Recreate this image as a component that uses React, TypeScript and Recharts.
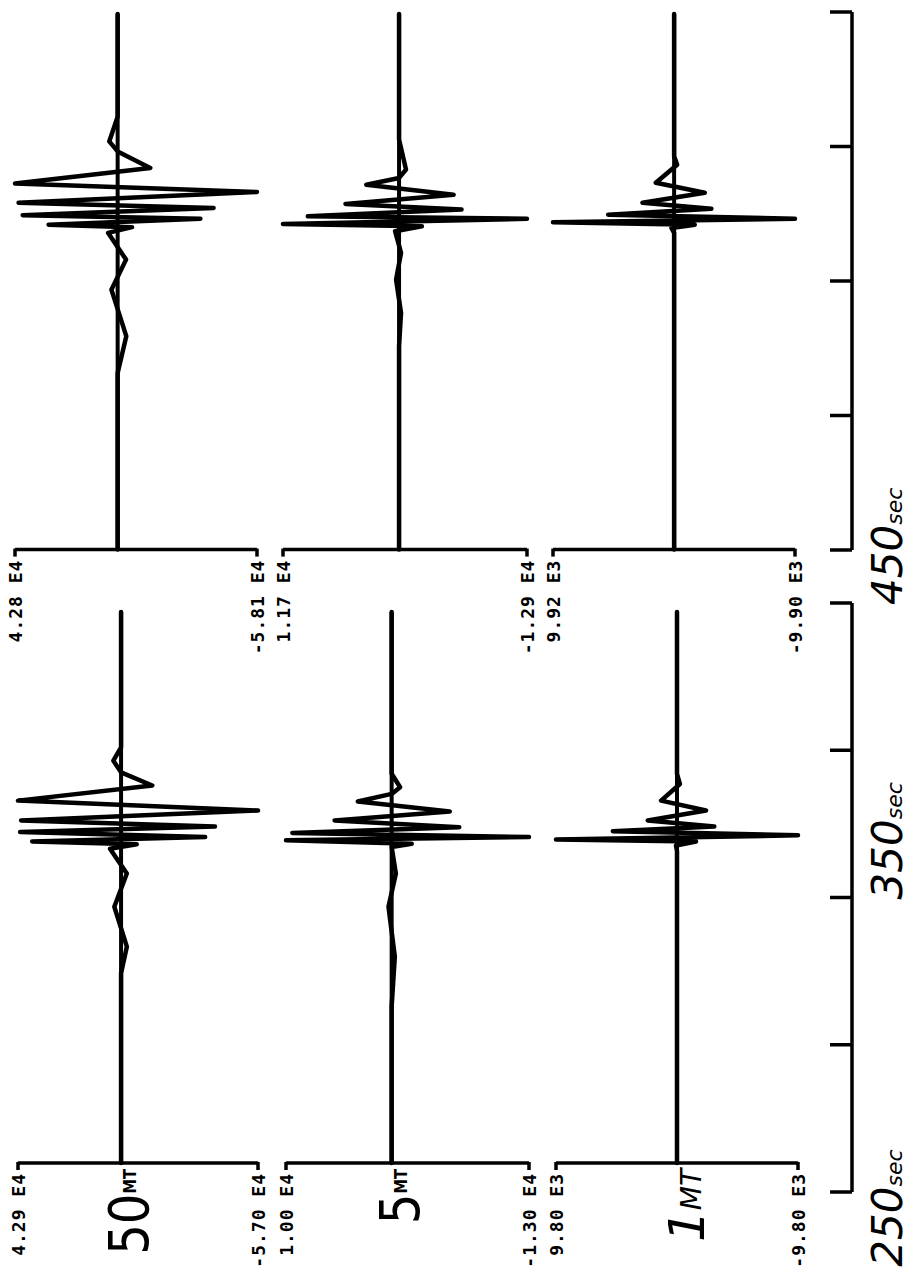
// Seismogram panels: 50 / 5 / 1 MT traces, two records, time axis on the right
import React from 'react';
import { LineChart, Line, XAxis, YAxis, ReferenceLine } from 'recharts';

// ---- samples: time (s), amplitude (in units of 10^exp) ----
// upper record
const u50Time = [448, 410, 400.9, 397.2, 391.1, 385.3, 382.2, 378.2, 376.3, 373.6, 372.3, 370.1, 369.2, 367.1, 357.2, 346.1, 328.9, 315.3, 250];
const u50Amp = [0, 0, 0.35, 0, -1.36, 4.28, -5.81, 4.13, -4.0, 3.96, -3.45, 2.88, -0.6, 0.4, -0.35, 0.26, -0.36, 0, 0];
const u5Time = [448, 401.6, 390.5, 387.4, 384.9, 381.2, 377.8, 375.7, 373.2, 372.3, 370.4, 369.5, 367.7, 359.7, 349.8, 337.5, 325.2, 250];
const u5Amp = [0, 0, -0.07, 0, 0.33, -0.55, 0.54, -0.63, 0.92, -1.29, 1.17, -0.23, 0.04, -0.02, 0.03, -0.02, 0, 0];
const u1Time = [448, 395.4, 392.3, 385.6, 381.9, 378.2, 376.0, 373.8, 372.3, 371.0, 370.1, 368.9, 367.1, 250];
const u1Amp = [0, 0, -0.25, 1.5, -2.51, 2.59, -3.05, 5.4, -9.9, 9.92, -1.69, 0.22, 0, 0];

// lower record
const l50Time = [448, 401.6, 397.0, 393.0, 388.5, 383.3, 379.9, 376.5, 374.4, 372.5, 370.8, 369.3, 368.3, 366.8, 358.3, 346.9, 333.2, 324.1, 259];
const l50Amp = [0, 0, 0.32, 0, -1.3, 4.29, -5.7, 4.16, -3.91, 4.2, -3.5, 3.7, -0.65, 0.46, -0.24, 0.28, -0.24, 0, 0];
const l5Time = [448, 392.5, 387.9, 385.6, 383.0, 379.6, 376.5, 374.2, 372.2, 370.8, 369.7, 368.5, 367.4, 358.3, 346.9, 329.8, 312.7, 259];
const l5Amp = [0, 0, -0.08, 0, 0.32, -0.55, 0.54, -0.64, 0.94, -1.3, 1.0, -0.19, 0, -0.04, 0.03, -0.03, 0, 0];
const l1Time = [448, 392.5, 389.0, 383.3, 379.9, 376.5, 374.4, 372.8, 371.4, 370.0, 369.3, 367.9, 366.0, 259];
const l1Amp = [0, 0, -0.24, 1.29, -2.35, 2.37, -3.02, 5.2, -9.8, 9.8, -1.54, 0.08, 0, 0];

// printed extremes (max, min) per trace
const upperExtent = [[4.28, -5.81], [1.17, -1.29], [9.92, -9.9]];
const lowerExtent = [[4.29, -5.7], [1.0, -1.3], [9.8, -9.8]];
const ampExp = [4, 4, 3];
const yieldNames = ['50', '5', '1'];

const timeTicks = [250, 300, 350, 400, 450];
const timeLabels = [250, 350, 450];

// ---- layout ----
const UPPER = { top: 14.4, bottom: 550, tDomain: [250, 448] };
const LOWER = { top: 612, bottom: 1163, tDomain: [259, 448] };
const upperX = [[15, 257], [283, 527], [553, 795]];
const lowerX = [[18, 258], [286, 529], [556, 798]];
const AXIS_X = 852;
const INK = '#000';
const STROKE = 4.5;

const rows = (t: number[], a: number[]) => t.map((v, i) => ({ t: v, amp: a[i] }));
const upperRows = [rows(u50Time, u50Amp), rows(u5Time, u5Amp), rows(u1Time, u1Amp)];
const lowerRows = [rows(l50Time, l50Amp), rows(l5Time, l5Amp), rows(l1Time, l1Amp)];

interface TraceProps {
  data: { t: number; amp: number }[];
  extent: number[];
  exp: number;
  name?: string;
  x0: number;
  x1: number;
  top: number;
  bottom: number;
  tDomain: number[];
}

function Trace({ data, extent, exp, name, x0, x1, top, bottom, tDomain }: TraceProps) {
  const pad = 24;
  const axH = 110;

  const renderTick = (p: any) => {
    const { x, y, payload } = p;
    const v = payload.value;
    if (v === 0) {
      if (!name) return <g />;
      const one = name === '1';
      return (
        <text
          transform={`translate(${x + 27},${y + 6}) rotate(-90) scale(${one ? 1 : 0.86},1)`}
          textAnchor="end"
          fontFamily="'DejaVu Sans', sans-serif"
          fontStyle={one ? 'italic' : 'normal'}
          fontSize={one ? 50 : 56}
          fill={INK}
        >
          {name}
          <tspan fontSize={one ? 28 : 17} fontWeight={one ? 'normal' : 'bold'} dy={one ? -3 : -12}>
            MT
          </tspan>
        </text>
      );
    }
    return (
      <g>
        <line x1={x} y1={y - 1} x2={x} y2={y + 7} stroke={INK} strokeWidth={3.5} />
        <text
          transform={`translate(${x + 7},${y + 10}) rotate(-90)`}
          textAnchor="end"
          fontFamily="'DejaVu Sans Mono', monospace"
          fontWeight="bold"
          fontSize={18}
          letterSpacing={1}
          fill={INK}
        >
          {`${v.toFixed(2)} E${exp}`}
        </text>
      </g>
    );
  };

  return (
    <div style={{ position: 'absolute', left: x0 - pad, top: top - 4 }}>
      <LineChart
        width={x1 - x0 + 2 * pad}
        height={bottom - top + 4 + axH}
        data={data}
        margin={{ top: 4, right: pad, bottom: 0, left: pad }}
      >
        <XAxis
          type="number"
          dataKey="amp"
          domain={[extent[1], extent[0]]}
          reversed
          ticks={[extent[0], 0, extent[1]]}
          interval={0}
          height={axH}
          tickLine={false}
          tickSize={0}
          tickMargin={0}
          axisLine={{ stroke: INK, strokeWidth: 3.5 }}
          tick={renderTick}
        />
        <YAxis type="number" dataKey="t" domain={tDomain} hide />
        <ReferenceLine x={0} stroke={INK} strokeWidth={4} />
        <Line
          dataKey="t"
          type="linear"
          stroke={INK}
          strokeWidth={STROKE}
          strokeLinejoin="round"
          strokeLinecap="round"
          dot={false}
          activeDot={false}
          isAnimationActive={false}
        />
      </LineChart>
    </div>
  );
}

function TimeAxis({ top, bottom, labeled }: { top: number; bottom: number; labeled: boolean }) {
  const axW = 30;
  const right = 913 - AXIS_X;
  const tickLen = 22;
  const vpad = 130;

  const renderTick = (p: any) => {
    const { x, y, payload } = p;
    const v = payload.value;
    if (!labeled || !timeLabels.includes(v)) return <g />;
    const lineX = x + tickLen;
    const first = v === timeLabels[0];
    return (
      <text
        transform={`translate(${lineX + 50},${y + (first ? 16 : 2)}) rotate(-90)`}
        textAnchor={first ? 'middle' : 'start'}
        fontFamily="'DejaVu Sans', sans-serif"
        fontStyle="italic"
        fontSize={42}
        fill={INK}
      >
        {v}
        <tspan fontSize={22}>sec</tspan>
      </text>
    );
  };

  return (
    <div style={{ position: 'absolute', left: AXIS_X - axW, top: top - vpad }}>
      <LineChart
        width={axW + right}
        height={bottom - top + 2 * vpad}
        data={timeTicks.map((t) => ({ t }))}
        margin={{ top: vpad, right, bottom: vpad, left: 0 }}
      >
        <XAxis hide />
        <YAxis
          type="number"
          dataKey="t"
          domain={[250, 450]}
          ticks={timeTicks}
          interval={0}
          width={axW}
          tickSize={tickLen}
          tickMargin={0}
          axisLine={{ stroke: INK, strokeWidth: 3.5 }}
          tickLine={{ stroke: INK, strokeWidth: 3.5 }}
          tick={renderTick}
        />
      </LineChart>
    </div>
  );
}

export default function App() {
  return (
    <div
      style={{
        position: 'absolute',
        left: 0,
        top: 0,
        width: 913,
        height: 1274,
        overflow: 'hidden',
        background: '#fff',
      }}
    >
      {upperRows.map((d, i) => (
        <Trace
          key={`u${i}`}
          data={d}
          extent={upperExtent[i]}
          exp={ampExp[i]}
          x0={upperX[i][0]}
          x1={upperX[i][1]}
          top={UPPER.top}
          bottom={UPPER.bottom}
          tDomain={UPPER.tDomain}
        />
      ))}
      {lowerRows.map((d, i) => (
        <Trace
          key={`l${i}`}
          data={d}
          extent={lowerExtent[i]}
          exp={ampExp[i]}
          name={yieldNames[i]}
          x0={lowerX[i][0]}
          x1={lowerX[i][1]}
          top={LOWER.top}
          bottom={LOWER.bottom}
          tDomain={LOWER.tDomain}
        />
      ))}
      <TimeAxis top={12} bottom={550} labeled={false} />
      <TimeAxis top={603} bottom={1192} labeled />
    </div>
  );
}
